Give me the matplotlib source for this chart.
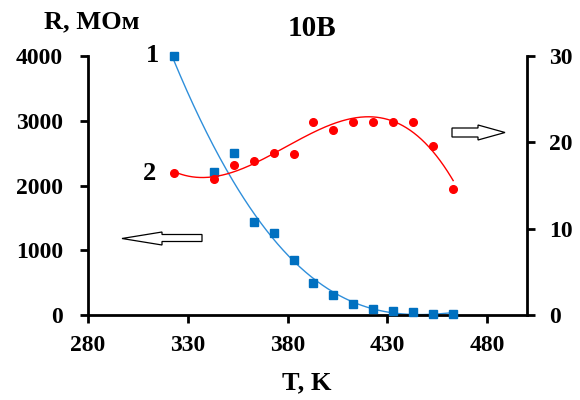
import numpy as np
import matplotlib
matplotlib.use("Agg")
import matplotlib.pyplot as plt
from matplotlib.patches import Polygon

# Data
T_r = [323, 343, 353, 363, 373, 383, 393, 403, 413, 423, 433, 443, 453, 463]
R_vals = [4000, 2210, 2500, 1436, 1266, 850, 494, 309, 170, 93, 62, 46, 15, 15]
T_2 = [323, 343, 353, 363, 373, 383, 393, 403, 413, 423, 433, 443, 453, 463]
S_vals = [16.4, 15.8, 17.4, 17.8, 18.8, 18.7, 22.4, 21.4, 22.4, 22.4, 22.4, 22.4, 19.6, 14.6]
x_ticks = [280, 330, 380, 430, 480]
yl_ticks = [0, 1000, 2000, 3000, 4000]
yr_ticks = [0, 10, 20, 30]

plt.rcParams['font.family'] = ['Liberation Serif', 'DejaVu Serif']
plt.rcParams['font.weight'] = 'bold'

W, H = 580, 400
fig = plt.figure(figsize=(W/100, H/100), dpi=100)
ax = fig.add_axes([88/W, 1-315/H, (527-88)/W, (315-56)/H])
ax2 = ax.twinx()

blue = '#0070C0'
red = '#FF0000'

# trend lines
tt = np.linspace(min(T_r), max(T_r), 300)
pb = np.polyfit(T_r, R_vals, 4)
ax.plot(tt, np.polyval(pb, tt), color='#2F8FDB', lw=1.0, zorder=2)
ax.plot(T_r, R_vals, 's', color=blue, ms=5.5, mec=blue, zorder=3, clip_on=False)

pr = np.polyfit(T_2, S_vals, 3)
ax2.plot(tt, np.polyval(pr, tt), color=red, lw=1.0, zorder=2)
ax2.plot(T_2, S_vals, 'o', color=red, ms=5.5, zorder=3, clip_on=False)

ax.set_xlim(280, 500)
ax.set_ylim(0, 4000)
ax2.set_ylim(0, 30)
ax.set_xticks(x_ticks)
ax.set_yticks(yl_ticks)
ax2.set_yticks(yr_ticks)

for a in (ax, ax2):
    a.spines['top'].set_visible(False)
    for s in a.spines.values():
        s.set_linewidth(2)
        s.set_color('black')
ax.spines['right'].set_visible(False)
ax2.spines['left'].set_visible(False)
ax2.spines['bottom'].set_visible(False)

ax.tick_params(axis='y', direction='out', length=6, width=2, labelsize=17, pad=12)
ax.tick_params(axis='x', direction='out', length=5.5, width=2, labelsize=17, pad=9)
ax2.tick_params(axis='y', direction='out', length=6, width=2, labelsize=17, pad=10)
for lab in ax.get_xticklabels() + ax.get_yticklabels() + ax2.get_yticklabels():
    lab.set_fontweight('bold')

fs = 19
fig.text(92/W, 1-22/H, 'R, МОм', ha='center', va='center', fontsize=fs, fontweight='bold')
fig.text(312/W, 1-28/H, '10В', ha='center', va='center', fontsize=21, fontweight='bold')
fig.text(307/W, 1-383/H, 'T, K', ha='center', va='center', fontsize=fs, fontweight='bold')
fig.text(152/W, 1-55/H, '1', ha='center', va='center', fontsize=fs, fontweight='bold')
fig.text(150/W, 1-173/H, '2', ha='center', va='center', fontsize=fs, fontweight='bold')

def arrow(pts):
    poly = Polygon([(x/W, 1-y/H) for x, y in pts], closed=True, fill=False,
                   edgecolor='black', lw=0.9, transform=fig.transFigure)
    fig.add_artist(poly)

# left-pointing arrow
arrow([(122, 238.5), (162, 232), (162, 234.5), (202, 234.5), (202, 241.5),
       (162, 241.5), (162, 245)])
# right-pointing arrow
arrow([(505, 132.5), (478, 125), (478, 128), (452, 128), (452, 137),
       (478, 137), (478, 140)])

fig.savefig('out.png', dpi=100)
